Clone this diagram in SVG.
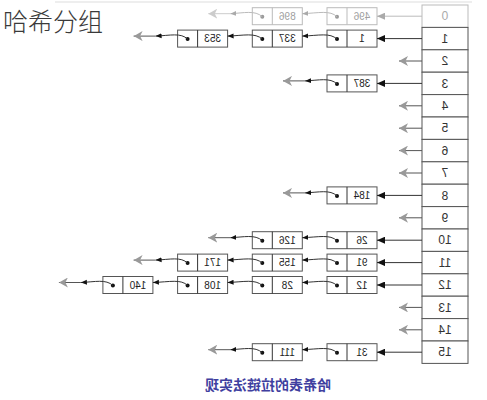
<svg xmlns="http://www.w3.org/2000/svg" width="487" height="400" viewBox="0 0 487 400">
<style>
.box{fill:#fff;stroke:#555;stroke-width:1}
.fbox{fill:#fff;stroke:#bbb;stroke-width:1}
.cell{fill:#fff;stroke:#555;stroke-width:1}
.fcell{fill:#fff;stroke:#bbb;stroke-width:1}
.val{font-family:"Liberation Sans",Arial,sans-serif;font-size:10px;fill:#222;text-anchor:middle}
.fval{font-family:"Liberation Sans",Arial,sans-serif;font-size:10px;fill:#a0a0a0;text-anchor:middle}
.idx{font-family:"Liberation Sans",Arial,sans-serif;font-size:12px;fill:#333;text-anchor:middle}
.fidx{font-family:"Liberation Sans",Arial,sans-serif;font-size:12px;fill:#aaa;text-anchor:middle}
.dot{fill:#111}
.fdot{fill:#999}
.ln{stroke:#333;stroke-width:1;fill:none}
.fln{stroke:#bbb;stroke-width:1;fill:none}
.nl{stroke:#555;stroke-width:1;fill:none}
.fnl{stroke:#ccc;stroke-width:1;fill:none}
.cap{font-family:"Noto Sans CJK SC",sans-serif;font-size:14px;font-weight:bold;fill:#3f3fa0;text-anchor:middle}
.title{font-family:"Noto Sans CJK SC",sans-serif;font-size:25px;font-weight:300;fill:#3a3a3a}
</style>
<defs>
<marker id="sm" markerWidth="6" markerHeight="6" refX="6" refY="3" orient="auto" markerUnits="userSpaceOnUse"><path d="M0,0.5 L6,3 L0,5.5z" fill="#111"/></marker>
<marker id="ah" markerWidth="8" markerHeight="7" refX="8" refY="3.5" orient="auto" markerUnits="userSpaceOnUse"><path d="M0,0 L8,3.5 L0,7z" fill="#111"/></marker>
<marker id="nul" markerWidth="9" markerHeight="10" refX="9" refY="5" orient="auto" markerUnits="userSpaceOnUse"><path d="M0,0 L9,5 L0,10 L2.5,5z" fill="#999"/></marker>
<marker id="smf" markerWidth="6" markerHeight="6" refX="6" refY="3" orient="auto" markerUnits="userSpaceOnUse"><path d="M0,0.5 L6,3 L0,5.5z" fill="#aaa"/></marker>
<marker id="ahf" markerWidth="8" markerHeight="7" refX="8" refY="3.5" orient="auto" markerUnits="userSpaceOnUse"><path d="M0,0 L8,3.5 L0,7z" fill="#aaa"/></marker>
<marker id="nulf" markerWidth="9" markerHeight="10" refX="9" refY="5" orient="auto" markerUnits="userSpaceOnUse"><path d="M0,0 L9,5 L0,10 L2.5,5z" fill="#ccc"/></marker>
</defs>
<rect width="487" height="400" fill="#fff"/>
<line x1="55" y1="2" x2="472" y2="2" stroke="#ddd" stroke-width="1"/>
<text id="title" class="title" x="3" y="31">哈希分组</text>
<g id="diagram" transform="matrix(-1 0 0 1 487 0)">
<g id="table">
<g id="slot-0"><rect class="fcell" x="19" y="5" width="46" height="22.4"/><text class="fidx" x="42" y="20.4">0</text></g>
<g id="slot-1"><rect class="cell" x="19" y="27.4" width="46" height="22.4"/><text class="idx" x="42" y="42.8">1</text></g>
<g id="slot-2"><rect class="cell" x="19" y="49.8" width="46" height="22.4"/><text class="idx" x="42" y="65.2">2</text></g>
<g id="slot-3"><rect class="cell" x="19" y="72.2" width="46" height="22.4"/><text class="idx" x="42" y="87.6">3</text></g>
<g id="slot-4"><rect class="cell" x="19" y="94.6" width="46" height="22.4"/><text class="idx" x="42" y="110">4</text></g>
<g id="slot-5"><rect class="cell" x="19" y="117" width="46" height="22.4"/><text class="idx" x="42" y="132.4">5</text></g>
<g id="slot-6"><rect class="cell" x="19" y="139.4" width="46" height="22.4"/><text class="idx" x="42" y="154.8">6</text></g>
<g id="slot-7"><rect class="cell" x="19" y="161.8" width="46" height="22.4"/><text class="idx" x="42" y="177.2">7</text></g>
<g id="slot-8"><rect class="cell" x="19" y="184.2" width="46" height="22.4"/><text class="idx" x="42" y="199.6">8</text></g>
<g id="slot-9"><rect class="cell" x="19" y="206.6" width="46" height="22.4"/><text class="idx" x="42" y="222">9</text></g>
<g id="slot-10"><rect class="cell" x="19" y="229" width="46" height="22.4"/><text class="idx" x="42" y="244.4">10</text></g>
<g id="slot-11"><rect class="cell" x="19" y="251.4" width="46" height="22.4"/><text class="idx" x="42" y="266.8">11</text></g>
<g id="slot-12"><rect class="cell" x="19" y="273.8" width="46" height="22.4"/><text class="idx" x="42" y="289.2">12</text></g>
<g id="slot-13"><rect class="cell" x="19" y="296.2" width="46" height="22.4"/><text class="idx" x="42" y="311.6">13</text></g>
<g id="slot-14"><rect class="cell" x="19" y="318.6" width="46" height="22.4"/><text class="idx" x="42" y="334">14</text></g>
<g id="slot-15"><rect class="cell" x="19" y="341" width="46" height="22.4"/><text class="idx" x="42" y="356.4">15</text></g>
</g>
<g id="nodes">
<g id="n-496"><rect class="fbox" x="110" y="7.7" width="50" height="17"/><line class="fln" x1="140" y1="7.7" x2="140" y2="24.7"/><circle class="fdot" cx="150" cy="16.7" r="2"/><text class="fval" x="125" y="19.7">496</text></g>
<g id="n-896"><rect class="fbox" x="184.7" y="7.7" width="50" height="17"/><line class="fln" x1="214.7" y1="7.7" x2="214.7" y2="24.7"/><circle class="fdot" cx="224.7" cy="16.7" r="2"/><text class="fval" x="199.7" y="19.7">896</text></g>
<g id="n-1"><rect class="box" x="110" y="30.1" width="50" height="17"/><line class="ln" x1="140" y1="30.1" x2="140" y2="47.1"/><circle class="dot" cx="150" cy="39.1" r="2"/><text class="val" x="125" y="42.1">1</text></g>
<g id="n-337"><rect class="box" x="184.7" y="30.1" width="50" height="17"/><line class="ln" x1="214.7" y1="30.1" x2="214.7" y2="47.1"/><circle class="dot" cx="224.7" cy="39.1" r="2"/><text class="val" x="199.7" y="42.1">337</text></g>
<g id="n-353"><rect class="box" x="259.4" y="30.1" width="50" height="17"/><line class="ln" x1="289.4" y1="30.1" x2="289.4" y2="47.1"/><circle class="dot" cx="299.4" cy="39.1" r="2"/><text class="val" x="274.4" y="42.1">353</text></g>
<g id="n-387"><rect class="box" x="110" y="74.9" width="50" height="17"/><line class="ln" x1="140" y1="74.9" x2="140" y2="91.9"/><circle class="dot" cx="150" cy="83.9" r="2"/><text class="val" x="125" y="86.9">387</text></g>
<g id="n-184"><rect class="box" x="110" y="186.9" width="50" height="17"/><line class="ln" x1="140" y1="186.9" x2="140" y2="203.9"/><circle class="dot" cx="150" cy="195.9" r="2"/><text class="val" x="125" y="198.9">184</text></g>
<g id="n-26"><rect class="box" x="110" y="231.7" width="50" height="17"/><line class="ln" x1="140" y1="231.7" x2="140" y2="248.7"/><circle class="dot" cx="150" cy="240.7" r="2"/><text class="val" x="125" y="243.7">26</text></g>
<g id="n-126"><rect class="box" x="184.7" y="231.7" width="50" height="17"/><line class="ln" x1="214.7" y1="231.7" x2="214.7" y2="248.7"/><circle class="dot" cx="224.7" cy="240.7" r="2"/><text class="val" x="199.7" y="243.7">126</text></g>
<g id="n-91"><rect class="box" x="110" y="254.1" width="50" height="17"/><line class="ln" x1="140" y1="254.1" x2="140" y2="271.1"/><circle class="dot" cx="150" cy="263.1" r="2"/><text class="val" x="125" y="266.1">91</text></g>
<g id="n-155"><rect class="box" x="184.7" y="254.1" width="50" height="17"/><line class="ln" x1="214.7" y1="254.1" x2="214.7" y2="271.1"/><circle class="dot" cx="224.7" cy="263.1" r="2"/><text class="val" x="199.7" y="266.1">155</text></g>
<g id="n-171"><rect class="box" x="259.4" y="254.1" width="50" height="17"/><line class="ln" x1="289.4" y1="254.1" x2="289.4" y2="271.1"/><circle class="dot" cx="299.4" cy="263.1" r="2"/><text class="val" x="274.4" y="266.1">171</text></g>
<g id="n-12"><rect class="box" x="110" y="276.5" width="50" height="17"/><line class="ln" x1="140" y1="276.5" x2="140" y2="293.5"/><circle class="dot" cx="150" cy="285.5" r="2"/><text class="val" x="125" y="288.5">12</text></g>
<g id="n-28"><rect class="box" x="184.7" y="276.5" width="50" height="17"/><line class="ln" x1="214.7" y1="276.5" x2="214.7" y2="293.5"/><circle class="dot" cx="224.7" cy="285.5" r="2"/><text class="val" x="199.7" y="288.5">28</text></g>
<g id="n-108"><rect class="box" x="259.4" y="276.5" width="50" height="17"/><line class="ln" x1="289.4" y1="276.5" x2="289.4" y2="293.5"/><circle class="dot" cx="299.4" cy="285.5" r="2"/><text class="val" x="274.4" y="288.5">108</text></g>
<g id="n-140"><rect class="box" x="334.1" y="276.5" width="50" height="17"/><line class="ln" x1="364.1" y1="276.5" x2="364.1" y2="293.5"/><circle class="dot" cx="374.1" cy="285.5" r="2"/><text class="val" x="349.1" y="288.5">140</text></g>
<g id="n-31"><rect class="box" x="110" y="343.7" width="50" height="17"/><line class="ln" x1="140" y1="343.7" x2="140" y2="360.7"/><circle class="dot" cx="150" cy="352.7" r="2"/><text class="val" x="125" y="355.7">31</text></g>
<g id="n-111"><rect class="box" x="184.7" y="343.7" width="50" height="17"/><line class="ln" x1="214.7" y1="343.7" x2="214.7" y2="360.7"/><circle class="dot" cx="224.7" cy="352.7" r="2"/><text class="val" x="199.7" y="355.7">111</text></g>
</g>
<g id="connectors">
<line class="fln" x1="65" y1="16.2" x2="110" y2="16.2" marker-end="url(#ahf)"/>
<path class="fln" d="M150,16.7 C157,10 168,13 184.7,13.7" marker-end="url(#smf)"/>
<path class="fln" d="M224.7,16.7 C232,10 243,13 256.7,13.7" marker-end="url(#smf)"/>
<line class="fnl" x1="256.7" y1="13.7" x2="278.7" y2="13.7" marker-end="url(#nulf)"/>
<line class="ln" x1="65" y1="38.6" x2="110" y2="38.6" marker-end="url(#ah)"/>
<path class="ln" d="M150,39.1 C157,32.5 168,35.5 184.7,36.1" marker-end="url(#sm)"/>
<path class="ln" d="M224.7,39.1 C232,32.5 243,35.5 259.4,36.1" marker-end="url(#sm)"/>
<path class="ln" d="M299.4,39.1 C306,32.5 317,35.5 331.4,36.1" marker-end="url(#sm)"/>
<line class="nl" x1="331.4" y1="36.1" x2="353.4" y2="36.1" marker-end="url(#nul)"/>
<line class="nl" x1="65" y1="61" x2="88" y2="61" marker-end="url(#nul)"/>
<line class="ln" x1="65" y1="83.4" x2="110" y2="83.4" marker-end="url(#ah)"/>
<path class="ln" d="M150,83.9 C157,77.3 168,80.3 182,80.9" marker-end="url(#sm)"/>
<line class="nl" x1="182" y1="80.9" x2="204" y2="80.9" marker-end="url(#nul)"/>
<line class="nl" x1="65" y1="105.8" x2="88" y2="105.8" marker-end="url(#nul)"/>
<line class="nl" x1="65" y1="128.2" x2="88" y2="128.2" marker-end="url(#nul)"/>
<line class="nl" x1="65" y1="150.6" x2="88" y2="150.6" marker-end="url(#nul)"/>
<line class="nl" x1="65" y1="173" x2="88" y2="173" marker-end="url(#nul)"/>
<line class="ln" x1="65" y1="195.4" x2="110" y2="195.4" marker-end="url(#ah)"/>
<path class="ln" d="M150,195.9 C157,189.3 168,192.3 182,192.9" marker-end="url(#sm)"/>
<line class="nl" x1="182" y1="192.9" x2="204" y2="192.9" marker-end="url(#nul)"/>
<line class="nl" x1="65" y1="217.8" x2="88" y2="217.8" marker-end="url(#nul)"/>
<line class="ln" x1="65" y1="240.2" x2="110" y2="240.2" marker-end="url(#ah)"/>
<path class="ln" d="M150,240.7 C157,234.1 168,237.1 184.7,237.7" marker-end="url(#sm)"/>
<path class="ln" d="M224.7,240.7 C232,234.1 243,237.1 256.7,237.7" marker-end="url(#sm)"/>
<line class="nl" x1="256.7" y1="237.7" x2="278.7" y2="237.7" marker-end="url(#nul)"/>
<line class="ln" x1="65" y1="262.6" x2="110" y2="262.6" marker-end="url(#ah)"/>
<path class="ln" d="M150,263.1 C157,256.5 168,259.5 184.7,260.1" marker-end="url(#sm)"/>
<path class="ln" d="M224.7,263.1 C232,256.5 243,259.5 259.4,260.1" marker-end="url(#sm)"/>
<path class="ln" d="M299.4,263.1 C306,256.5 317,259.5 331.4,260.1" marker-end="url(#sm)"/>
<line class="nl" x1="331.4" y1="260.1" x2="353.4" y2="260.1" marker-end="url(#nul)"/>
<line class="ln" x1="65" y1="285" x2="110" y2="285" marker-end="url(#ah)"/>
<path class="ln" d="M150,285.5 C157,278.9 168,281.9 184.7,282.5" marker-end="url(#sm)"/>
<path class="ln" d="M224.7,285.5 C232,278.9 243,281.9 259.4,282.5" marker-end="url(#sm)"/>
<path class="ln" d="M299.4,285.5 C306,278.9 317,281.9 334.1,282.5" marker-end="url(#sm)"/>
<path class="ln" d="M374.1,285.5 C381,278.9 392,281.9 406.1,282.5" marker-end="url(#sm)"/>
<line class="nl" x1="406.1" y1="282.5" x2="428.1" y2="282.5" marker-end="url(#nul)"/>
<line class="nl" x1="65" y1="307.4" x2="88" y2="307.4" marker-end="url(#nul)"/>
<line class="nl" x1="65" y1="329.8" x2="88" y2="329.8" marker-end="url(#nul)"/>
<line class="ln" x1="65" y1="352.2" x2="110" y2="352.2" marker-end="url(#ah)"/>
<path class="ln" d="M150,352.7 C157,346.1 168,349.1 184.7,349.7" marker-end="url(#sm)"/>
<path class="ln" d="M224.7,352.7 C232,346.1 243,349.1 256.7,349.7" marker-end="url(#sm)"/>
<line class="nl" x1="256.7" y1="349.7" x2="278.7" y2="349.7" marker-end="url(#nul)"/>
</g>
<text id="caption" class="cap" x="219" y="390">哈希表的拉链法实现</text>
</g>
</svg>
